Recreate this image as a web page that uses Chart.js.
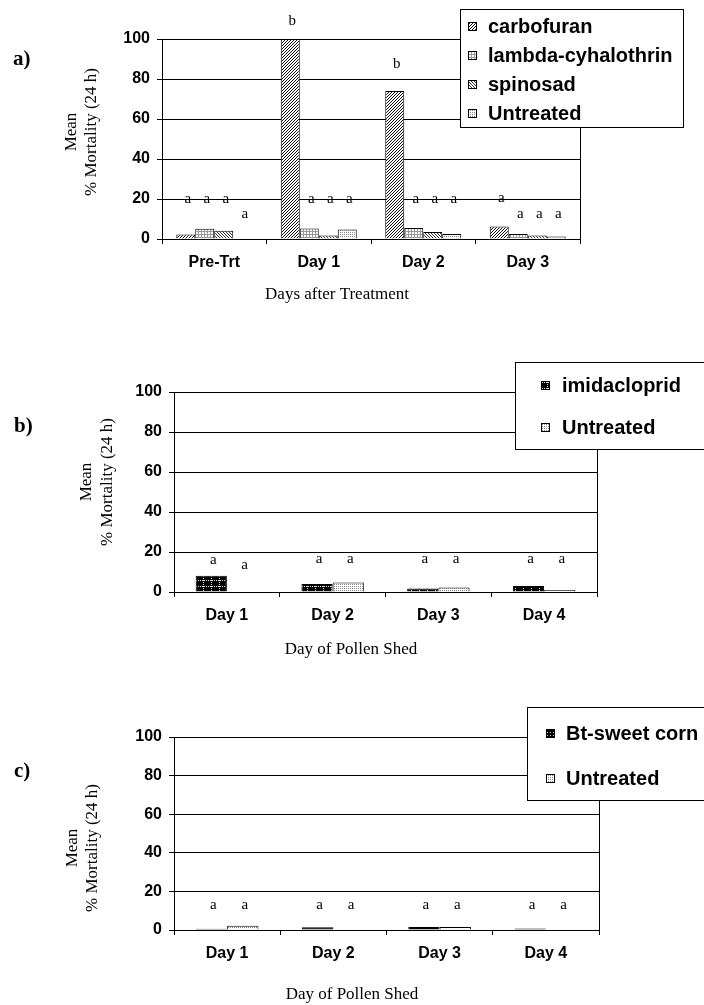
<!DOCTYPE html>
<html>
<head>
<meta charset="utf-8">
<script src="https://cdn.jsdelivr.net/npm/chart.js@4"></script>
<style>
html, body { margin: 0; padding: 0; background: #fff; width: 704px; height: 1005px; overflow: hidden; }
canvas { position: absolute; left: 0; }
</style>
</head>
<body>
<canvas id="chartA" width="704" height="320" style="top:0px"></canvas>
<canvas id="chartB" width="704" height="345" style="top:320px"></canvas>
<canvas id="chartC" width="704" height="340" style="top:665px"></canvas>
<script>
// ---- data ----
const daysA = ['Pre-Trt', 'Day 1', 'Day 2', 'Day 3'];
const carbofuran = [2.2, 100, 74, 6.3];
const lambdaCyhalothrin = [5.1, 5.2, 5.5, 2.5];
const spinosad = [4.1, 1.8, 3.5, 1.8];
const untreatedA = [0, 4.8, 2.5, 1.2];

const daysB = ['Day 1', 'Day 2', 'Day 3', 'Day 4'];
const imidacloprid = [8.1, 4.0, 1.7, 3.0];
const untreatedB = [0, 4.8, 2.3, 1.0];

const daysC = ['Day 1', 'Day 2', 'Day 3', 'Day 4'];
const btSweetCorn = [0.6, 1.4, 1.6, 0.8];
const untreatedC = [2.2, 0, 1.6, 0];

const yTicks = [0, 20, 40, 60, 80, 100];

// significance letters, one row per category, one entry per series
const lettersA = [['a', 'a', 'a', 'a'], ['b', 'a', 'a', 'a'], ['b', 'a', 'a', 'a'], ['a', 'a', 'a', 'a']];
const lettersB = [['a', 'a'], ['a', 'a'], ['a', 'a'], ['a', 'a']];
const lettersC = [['a', 'a'], ['a', 'a'], ['a', 'a'], ['a', 'a']];
// height (in % units) at which each letter is printed
const letterLevelA = [[18.8, 18.8, 18.8, 11.3], [108, 18.8, 18.8, 18.8], [86.3, 19, 19, 19], [19.5, 11.6, 11.6, 11.6]];
const letterLevelB = [[15, 12.3], [15.5, 15.5], [15.5, 15.5], [15.5, 15.5]];
const letterLevelC = [[11.8, 11.8], [11.8, 11.8], [11.8, 11.8], [11.8, 11.8]];

const SANS = 'Liberation Sans';
const SERIF = 'Liberation Serif';

// pixel tiles for the bar fills
function tile(ctx, w, h, bg, fg, test) {
	const c = document.createElement('canvas');
	c.width = w; c.height = h;
	const g = c.getContext('2d');
	g.fillStyle = bg; g.fillRect(0, 0, w, h);
	g.fillStyle = fg;
	for (let y = 0; y < h; y++)
		for (let x = 0; x < w; x++)
			if (test(x, y)) g.fillRect(x, y, 1, 1);
	return ctx.createPattern(c, 'repeat');
}
function fills(ctx) {
	return {
		fwd: tile(ctx, 3, 3, '#fff', '#111', (x, y) => (x + y) % 3 === 0),
		back: tile(ctx, 3, 3, '#fff', '#333', (x, y) => (x - y + 9) % 3 === 0),
		grid: tile(ctx, 3, 3, '#fff', '#999', (x, y) => x % 3 === 0 || y % 3 === 0),
		dots: tile(ctx, 2, 2, '#fff', '#888', (x, y) => x === 0 && y === 0),
		darkGrid: tile(ctx, 8, 6, '#000', '#ddd', (x, y) => (x === 3 && y % 2 === 0) || (y === 2 && x % 2 === 0)),
		darkDots: tile(ctx, 3, 3, '#000', '#ccc', (x, y) => x === 1 && y === 1)
	};
}

// texts, legend box, right frame line and letters
const decor = {
	id: 'decor',
	afterDraw(chart, args, o) {
		const ctx = chart.ctx, a = chart.chartArea, ys = chart.scales.y;
		ctx.save();
		ctx.strokeStyle = '#000'; ctx.lineWidth = 1;
		ctx.beginPath();
		ctx.moveTo(Math.round(a.right) + 0.5, a.top);
		ctx.lineTo(Math.round(a.right) + 0.5, a.bottom + 5);
		ctx.stroke();

		// letters
		ctx.fillStyle = '#000';
		ctx.font = '15px "' + SERIF + '"';
		ctx.textAlign = 'center'; ctx.textBaseline = 'middle';
		chart.data.datasets.forEach((ds, i) => {
			chart.getDatasetMeta(i).data.forEach((bar, j) => {
				ctx.fillText(o.letters[j][i], bar.x + 2, ys.getPixelForValue(o.levels[j][i]) - 2);
			});
		});

		// panel label
		ctx.textAlign = 'left';
		ctx.font = 'bold 21px "' + SERIF + '"';
		ctx.fillText(o.tag, o.tagX, o.tagY);

		// x title
		ctx.textAlign = 'center';
		ctx.font = '17px "' + SERIF + '"';
		ctx.fillText(o.xTitle, o.xTitleX, o.xTitleY);

		// y title, two lines rotated
		ctx.save();
		ctx.translate(o.yTitleX, o.yTitleY);
		ctx.rotate(-Math.PI / 2);
		ctx.fillText('Mean', 0, 0);
		ctx.fillText('% Mortality (24 h)', 0, o.yTitleGap);
		ctx.restore();

		// legend box
		const L = o.legend;
		ctx.fillStyle = '#fff';
		ctx.fillRect(L.x, L.y, L.w, L.h);
		ctx.strokeRect(L.x + 0.5, L.y + 0.5, L.w, L.h);
		ctx.font = 'bold 20px "' + SANS + '"';
		ctx.textAlign = 'left';
		chart.data.datasets.forEach((ds, i) => {
			const ry = L.rows[i];
			ctx.fillStyle = ds.backgroundColor;
			ctx.fillRect(L.sx, ry - 4, 9, 9);
			ctx.strokeRect(L.sx + 0.5, ry - 4 + 0.5, 8, 8);
			ctx.fillStyle = '#000';
			ctx.fillText(ds.label, L.tx, ry + 1);
		});
		ctx.restore();
	}
};

function makePanel(id, labels, series, pct, box, deco) {
	const canvas = document.getElementById(id);
	const ctx = canvas.getContext('2d');
	const f = fills(ctx);
	return new Chart(ctx, {
		type: 'bar',
		data: {
			labels: labels,
			datasets: series.map(s => ({
				label: s.label,
				data: s.data,
				backgroundColor: f[s.fill],
				borderColor: '#000',
				borderWidth: 1,
				categoryPercentage: pct,
				barPercentage: 1
			}))
		},
		options: {
			responsive: false,
			animation: false,
			devicePixelRatio: 1,
			layout: { padding: { left: 0, top: box.top, right: 704 - box.right, bottom: canvas.height - box.bottom - 40 } },
			plugins: { legend: { display: false }, tooltip: { enabled: false }, decor: deco },
			scales: {
				x: {
					grid: { display: true, drawOnChartArea: false, drawTicks: true, tickLength: 5, color: '#000', offset: true },
					border: { color: '#000', width: 1 },
					ticks: { color: '#000', padding: 9, font: { family: SANS, weight: 'bold', size: 16 } },
					afterFit: s => { s.height = 40; }
				},
				y: {
					min: 0, max: 100,
					afterBuildTicks: s => { s.ticks = yTicks.map(v => ({ value: v })); },
					grid: { color: '#000', drawTicks: true, tickLength: 5 },
					border: { color: '#000', width: 1 },
					ticks: { color: '#000', padding: 7, font: { family: SANS, weight: 'bold', size: 16 } },
					afterFit: s => { s.width = box.left; }
				}
			}
		},
		plugins: [decor]
	});
}

makePanel('chartA', daysA, [
	{ label: 'carbofuran', data: carbofuran, fill: 'fwd' },
	{ label: 'lambda-cyhalothrin', data: lambdaCyhalothrin, fill: 'grid' },
	{ label: 'spinosad', data: spinosad, fill: 'back' },
	{ label: 'Untreated', data: untreatedA, fill: 'dots' }
], 0.727, { left: 162, right: 580, top: 39, bottom: 239 }, {
	letters: lettersA, levels: letterLevelA,
	tag: 'a)', tagX: 13, tagY: 60,
	xTitle: 'Days after Treatment', xTitleX: 337, xTitleY: 295,
	yTitleX: 72, yTitleY: 132, yTitleGap: 20,
	legend: { x: 460, y: 9, w: 223, h: 118, rows: [26, 55, 84, 113], sx: 468, tx: 488 }
});

makePanel('chartB', daysB, [
	{ label: 'imidacloprid', data: imidacloprid, fill: 'darkGrid' },
	{ label: 'Untreated', data: untreatedB, fill: 'dots' }
], 0.59, { left: 174, right: 597, top: 72, bottom: 272 }, {
	letters: lettersB, levels: letterLevelB,
	tag: 'b)', tagX: 14, tagY: 107,
	xTitle: 'Day of Pollen Shed', xTitleX: 351, xTitleY: 330,
	yTitleX: 87, yTitleY: 162, yTitleGap: 21,
	legend: { x: 515, y: 42, w: 200, h: 87, rows: [65, 107], sx: 541, tx: 562 }
});

makePanel('chartC', daysC, [
	{ label: 'Bt-sweet corn', data: btSweetCorn, fill: 'darkDots' },
	{ label: 'Untreated', data: untreatedC, fill: 'dots' }
], 0.59, { left: 174, right: 599, top: 72, bottom: 265 }, {
	letters: lettersC, levels: letterLevelC,
	tag: 'c)', tagX: 14, tagY: 107,
	xTitle: 'Day of Pollen Shed', xTitleX: 352, xTitleY: 330,
	yTitleX: 73, yTitleY: 183, yTitleGap: 20,
	legend: { x: 527, y: 42, w: 200, h: 93, rows: [68, 113], sx: 546, tx: 566 }
});
</script>
</body>
</html>
